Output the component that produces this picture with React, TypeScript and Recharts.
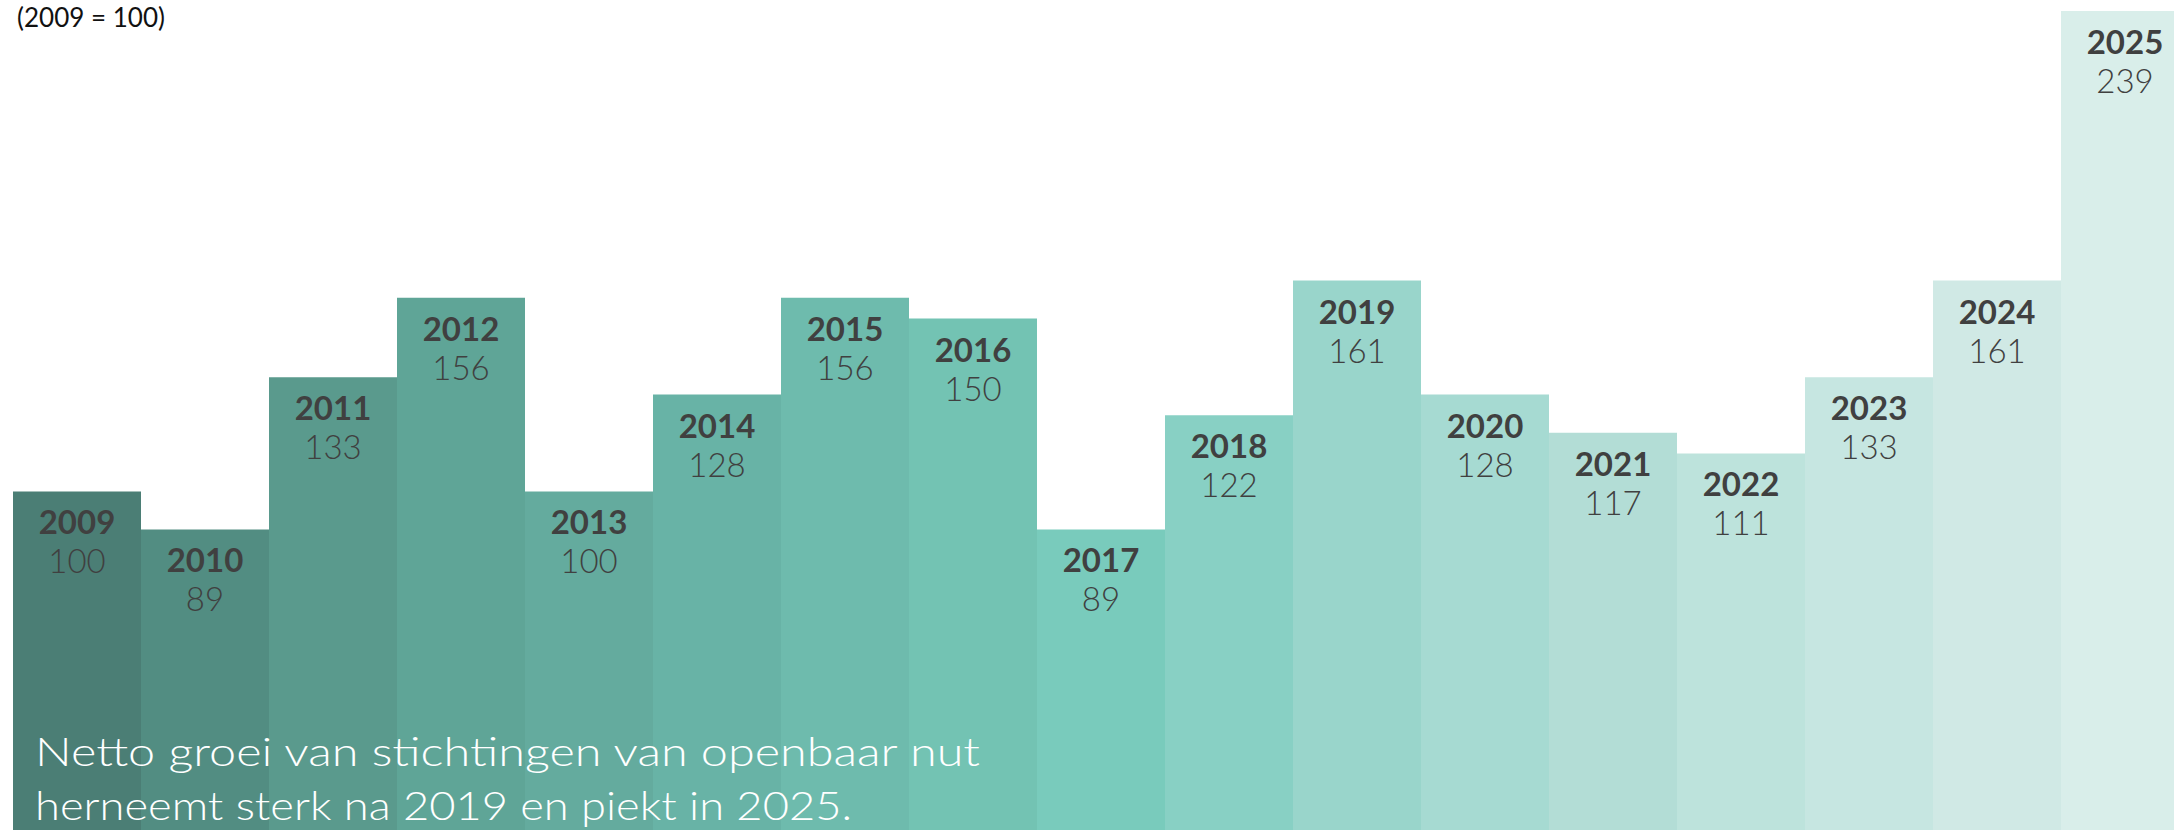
import { BarChart, Bar, Cell, XAxis, YAxis, LabelList } from 'recharts';

const years = ['2009', '2010', '2011', '2012', '2013', '2014', '2015', '2016', '2017', '2018', '2019', '2020', '2021', '2022', '2023', '2024', '2025'];
const indexValues = [100, 89, 133, 156, 100, 128, 156, 150, 89, 122, 161, 128, 117, 111, 133, 161, 239];
const barColors = [
  '#4b7e75', '#528d82', '#5a9a8d', '#5fa597', '#64ab9e', '#68b3a6', '#6ebbad', '#73c3b3', '#79cbbc',
  '#88d0c4', '#99d5cb', '#a6dad2', '#b3ddd6', '#bde3dc', '#c6e6e1', '#d0e9e5', '#d9eeea',
];
const subtitle = '(2009 = 100)';
const captionLines = ['Netto groei van stichtingen van openbaar nut', 'herneemt sterk na 2019 en piekt in 2025.'];

const data = years.map((year, i) => ({ year, value: indexValues[i] }));

const FONT = 'Lato, "Noto Sans", sans-serif';

function BarLabel(props: any) {
  const { x, y, width, index } = props;
  const cx = x + width / 2;
  return (
    <g>
      <text x={cx} y={y + 43} textAnchor="middle" fill="#404040" fontFamily={FONT} fontWeight={700} fontSize={33}>
        {years[index]}
      </text>
      <text x={cx} y={y + 82} textAnchor="middle" fill="#404040" fontFamily={FONT} fontWeight={300} fontSize={33}>
        {indexValues[index]}
      </text>
    </g>
  );
}

export default function App() {
  return (
    <div style={{ position: 'absolute', left: 0, top: 0, width: 2174, height: 830, overflow: 'hidden', background: '#fff' }}>
      <BarChart
        width={2189}
        height={837}
        data={data}
        margin={{ top: 11, right: 0, bottom: 0, left: 13 }}
        barCategoryGap={0}
      >
        <XAxis dataKey="year" hide />
        <YAxis domain={[0, 239]} hide />
        <Bar dataKey="value" isAnimationActive={false}>
          {data.map((d, i) => (
            <Cell key={d.year} fill={barColors[i]} />
          ))}
          <LabelList dataKey="value" content={<BarLabel />} />
        </Bar>
      </BarChart>

      <svg width={2174} height={830} style={{ position: 'absolute', left: 0, top: 0, pointerEvents: 'none' }}>
        <text x={17} y={27} fill="#111" fontFamily={FONT} fontSize={26} textLength={148} lengthAdjust="spacingAndGlyphs">
          {subtitle}
        </text>
        <text x={35} y={766} fill="#fff" fontFamily={FONT} fontWeight={300} fontSize={40} textLength={945} lengthAdjust="spacingAndGlyphs">
          {captionLines[0]}
        </text>
        <text x={35} y={820} fill="#fff" fontFamily={FONT} fontWeight={300} fontSize={40} textLength={817} lengthAdjust="spacingAndGlyphs">
          {captionLines[1]}
        </text>
      </svg>
    </div>
  );
}
